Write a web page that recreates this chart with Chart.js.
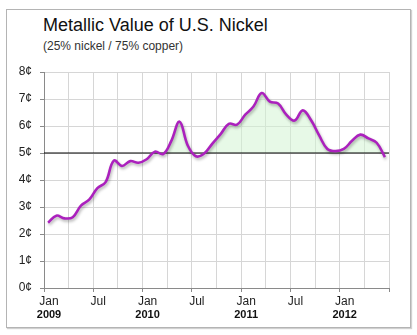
<!DOCTYPE html>
<html>
<head>
<meta charset="utf-8">
<script src="https://cdn.jsdelivr.net/npm/chart.js@4/dist/chart.umd.min.js"></script>
<style>
  html, body { margin: 0; padding: 0; background: #fff; }
  #wrap { position: relative; width: 417px; height: 335px; font-family: "Liberation Sans", Arial, sans-serif; }
  #frame { position: absolute; left: 6px; top: 9px; width: 403px; height: 317px; border: 1px solid #b4b4b4; box-shadow: 1px 1px 1px #d0d0d0; }
  #title { position: absolute; left: 43px; top: 15px; font-size: 18px; color: #111; white-space: nowrap; }
  #subtitle { position: absolute; left: 43px; top: 39px; font-size: 12px; color: #333; white-space: nowrap; }
  #chart { position: absolute; left: 0; top: 0; }
</style>
</head>
<body>
<div id="wrap">
  <div id="frame"></div>
  <div id="title">Metallic Value of U.S. Nickel</div>
  <div id="subtitle">(25% nickel / 75% copper)</div>
  <canvas id="chart" width="417" height="335"></canvas>
</div>
<script>
// monthly metal value in cents, Jan 2009 .. Jun 2012
const nickelValue = [
  2.42, 2.68, 2.58, 2.62, 3.05, 3.27, 3.70, 3.92, 4.72, 4.52, 4.70, 4.64,
  4.77, 5.05, 4.96, 5.45, 6.16, 5.28, 4.88, 4.98, 5.35, 5.70, 6.08, 6.05,
  6.42, 6.72, 7.22, 6.90, 6.83, 6.42, 6.20, 6.58, 6.22, 5.65, 5.15, 5.07,
  5.15, 5.45, 5.68, 5.54, 5.38, 4.85
];
const years = ["2009", "2010", "2011", "2012"];
const monthLabels = { 0: "Jan", 6: "Jul" };
const faceValue = 5;
const totalMonths = 42;

// each month's value sits in the middle of its month
const nickelPoints = nickelValue.map((v, i) => ({ x: i + 0.5, y: v }));
const faceLine = [{ x: 0, y: faceValue }, { x: totalMonths, y: faceValue }];

const font = "'Liberation Sans', Arial, sans-serif";

const lineShadow = {
  id: "lineShadow",
  beforeDatasetDraw(chart, args) {
    if (args.index !== 0) return;
    const c = chart.ctx;
    c.save();
    c.shadowColor = "rgba(0,0,0,0.3)";
    c.shadowBlur = 3;
    c.shadowOffsetX = 1;
    c.shadowOffsetY = 2;
  },
  afterDatasetDraw(chart, args) {
    if (args.index === 0) chart.ctx.restore();
  }
};

new Chart(document.getElementById("chart"), {
  type: "line",
  data: {
    datasets: [
      {
        data: nickelPoints,
        borderColor: "#ab21bd",
        borderWidth: 2.6,
        tension: 0.4,
        pointRadius: 0,
        fill: { target: { value: faceValue }, above: "rgba(212,244,212,0.55)", below: "transparent" }
      },
      {
        data: faceLine,
        borderColor: "#000",
        borderWidth: 1,
        pointRadius: 0,
        fill: false
      }
    ]
  },
  plugins: [lineShadow],
  options: {
    responsive: false,
    animation: false,
    layout: { padding: { left: 0, right: 28, top: 72, bottom: 12 } },
    plugins: {
      legend: { display: false },
      tooltip: { enabled: false },
      filler: { drawTime: "beforeDatasetsDraw" }
    },
    scales: {
      x: {
        type: "linear",
        min: 0,
        max: totalMonths,
        afterFit: s => { s.height = 19; },
        border: { color: "#8a8a8a", width: 1 },
        grid: {
          color: "#d6d6d6",
          tickLength: 4,
          tickColor: c => (c.tick && c.tick.value % 6 === 0) ? "#8a8a8a" : "rgba(0,0,0,0)"
        },
        ticks: {
          stepSize: 3,
          autoSkip: false,
          maxRotation: 0,
          padding: 2,
          labelOffset: 5,
          color: "#222",
          font: { family: font, size: 12 },
          callback: v => (v < totalMonths && monthLabels[v % 12]) || ""
        }
      },
      x2: {
        type: "linear",
        position: "bottom",
        min: 0,
        max: totalMonths,
        afterFit: s => { s.height = 16; },
        border: { display: false },
        grid: { display: false, drawTicks: false },
        ticks: {
          stepSize: 12,
          autoSkip: false,
          maxRotation: 0,
          padding: 1,
          labelOffset: 5,
          color: "#111",
          font: { family: font, size: 11, weight: "bold" },
          callback: v => (v < totalMonths && v % 12 === 0) ? years[v / 12] : ""
        }
      },
      y: {
        min: 0,
        max: 8,
        afterFit: s => { s.width = 44; },
        border: { color: "#8a8a8a", width: 1 },
        grid: { color: "#d6d6d6", tickLength: 4, tickColor: "#8a8a8a" },
        ticks: {
          stepSize: 1,
          padding: 8,
          color: "#222",
          font: { family: font, size: 12 },
          callback: v => v + "¢"
        }
      }
    }
  }
});
</script>
</body>
</html>
